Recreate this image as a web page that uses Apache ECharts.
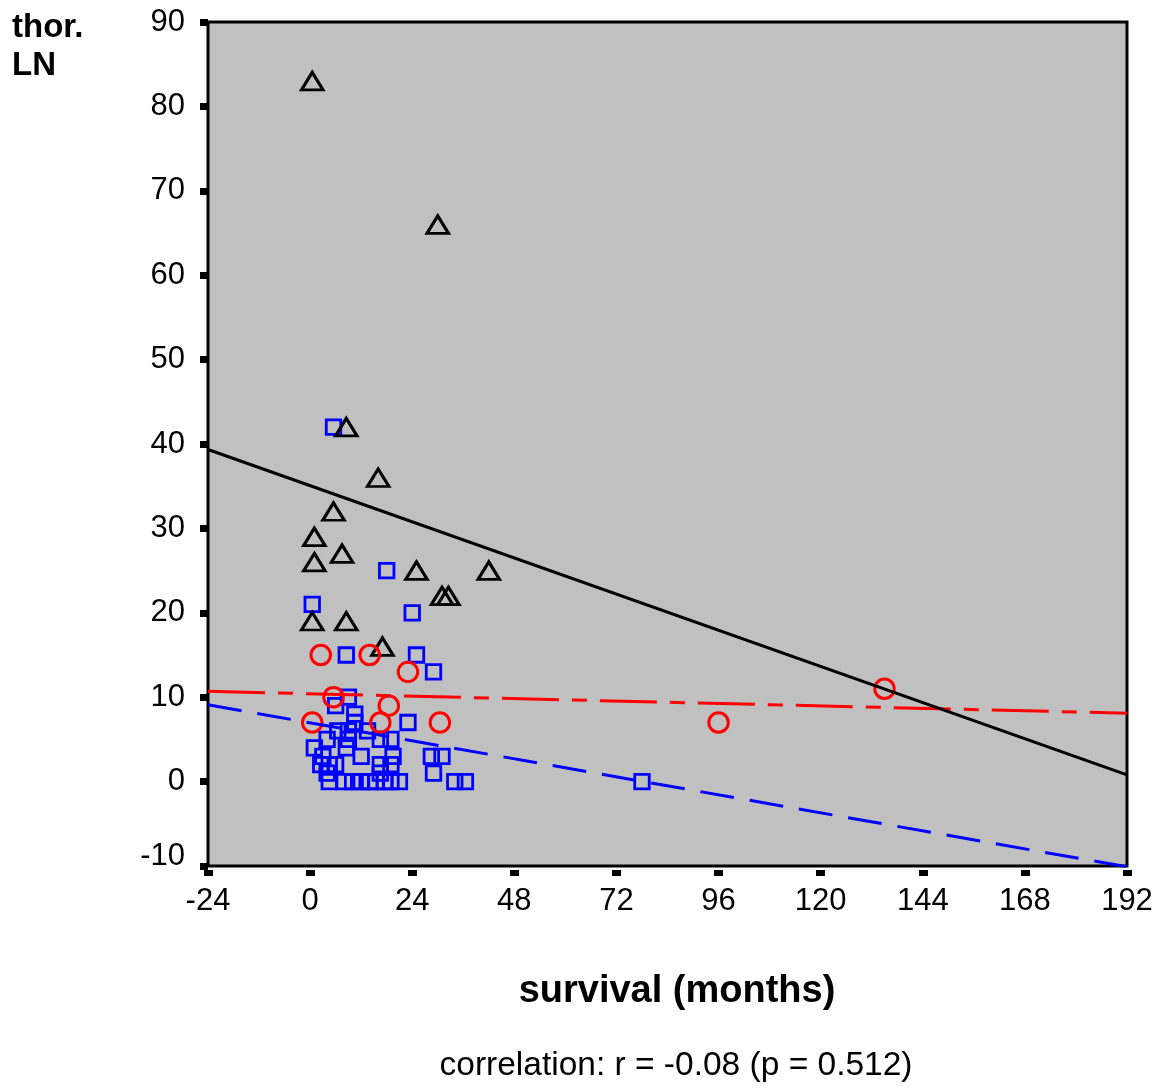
<!DOCTYPE html>
<html>
<head>
<meta charset="utf-8">
<script src="https://cdn.jsdelivr.net/npm/echarts@6/dist/echarts.min.js"></script>
<style>
html,body{margin:0;padding:0;background:#fff;}
#chart{width:1157px;height:1087px;}
</style>
</head>
<body>
<div id="chart"></div>
<script>
// ---- data ----
var xTicks = [-24, 0, 24, 48, 72, 96, 120, 144, 168, 192];
var yTicks = [-10, 0, 10, 20, 30, 40, 50, 60, 70, 80, 90];

// black triangles
var triX = [0.5, 30, 8.5, 16, 5.5, 1, 7.5, 1, 25, 42, 31, 32.5, 0.5, 8.5, 17];
var triY = [83, 66, 42, 36, 32, 29, 27, 26, 25, 25, 22, 22, 19, 19, 16];

// red circles
var cirX = [2.5, 14, 23, 5.5, 18.5, 0.5, 16.5, 30.5, 96, 135];
var cirY = [15, 15, 13, 10, 9, 7, 7, 7, 7, 11];

// blue squares
var sqX = [5.5, 18, 0.5, 24, 8.5, 25, 29, 9, 6, 10.5, 10.5, 6.5, 9, 13.5, 23, 4, 9, 16.5, 19, 1, 8.5, 3, 12, 19.5, 28.5, 31, 2.5, 4.5, 6, 16.5, 19, 4, 16.5, 29, 4.5, 8, 10, 12, 14, 15.5, 17.5, 19, 21, 34, 36.5, 78];
var sqY = [42, 25, 21, 20, 15, 15, 13, 10, 9, 8, 7, 6, 6, 6, 7, 5, 5, 5, 5, 4, 4, 3, 3, 3, 3, 3, 2, 2, 2, 2, 2, 1, 1, 1, 0, 0, 0, 0, 0, 0, 0, 0, 0, 0, 0, 0];

// regression lines (end points)
var fitX = [-24, 192];
var fitTriY = [39.35, 0.8];
var fitCirY = [10.7, 8.1];
var fitSqY = [9.1, -10.1];

function zip(a, b) { return a.map(function (v, i) { return [v, b[i]]; }); }

var FONT = '"Liberation Sans", Arial, Helvetica, sans-serif';

var chart = echarts.init(document.getElementById('chart'), null, {renderer: 'canvas'});
chart.setOption({
  animation: false,
  backgroundColor: '#ffffff',
  grid: {
    left: 208, top: 22, width: 919, height: 844,
    show: true, backgroundColor: '#c0c0c0', borderColor: '#000', borderWidth: 3
  },
  xAxis: {
    type: 'value', min: xTicks[0], max: xTicks[xTicks.length - 1], interval: 24,
    offset: 4,
    axisLine: {show: false, onZero: false},
    axisTick: {show: true, inside: false, length: 6, lineStyle: {color: '#000', width: 9}},
    axisLabel: {margin: 16, fontSize: 31, color: '#000', fontFamily: FONT},
    splitLine: {show: false}
  },
  yAxis: {
    type: 'value', min: yTicks[0], max: yTicks[yTicks.length - 1], interval: 10,
    axisLine: {show: false, onZero: false},
    axisTick: {show: true, inside: false, length: 8, lineStyle: {color: '#000', width: 7}},
    axisLabel: {
      margin: 23, fontSize: 31, color: '#000', fontFamily: FONT,
      formatter: function (v) { return v === -10 ? '{low|-10}' : String(v); },
      rich: {low: {fontSize: 31, fontFamily: FONT, color: '#000', padding: [0, 0, 20, 0]}}
    },
    splitLine: {show: false}
  },
  graphic: [
    {type: 'text', left: 12, top: 11, style: {text: 'thor.', font: 'bold 33px ' + FONT, fill: '#000'}},
    {type: 'text', left: 12, top: 49, style: {text: 'LN', font: 'bold 33px ' + FONT, fill: '#000'}},
    {type: 'text', style: {x: 677, y: 992, text: 'survival (months)', font: 'bold 38px ' + FONT, fill: '#000', textAlign: 'center', textVerticalAlign: 'middle'}},
    {type: 'text', style: {x: 676, y: 1066, text: 'correlation: r = -0.08 (p = 0.512)', font: '33.5px ' + FONT, fill: '#000', textAlign: 'center', textVerticalAlign: 'middle'}}
  ],
  series: [
    {
      type: 'scatter', name: 'squares', data: zip(sqX, sqY), symbol: 'rect', symbolSize: 14.5, z: 2,
      itemStyle: {color: 'rgba(0,0,0,0)', borderColor: '#0000ff', borderWidth: 2.8, opacity: 1}
    },
    {
      type: 'scatter', name: 'triangles', data: zip(triX, triY), symbol: 'triangle', symbolSize: [21.5, 17.5], z: 3,
      itemStyle: {color: 'rgba(0,0,0,0)', borderColor: '#000000', borderWidth: 3, opacity: 1}
    },
    {
      type: 'scatter', name: 'circles', data: zip(cirX, cirY), symbol: 'circle', symbolSize: 19.5, z: 4,
      itemStyle: {color: 'rgba(0,0,0,0)', borderColor: '#ff0000', borderWidth: 3, opacity: 1}
    },
    {
      type: 'line', data: zip(fitX, fitSqY), symbol: 'none', z: 5, silent: true,
      lineStyle: {color: '#0000ff', width: 3, type: [34, 16]}
    },
    {
      type: 'line', data: zip(fitX, fitCirY), symbol: 'none', z: 5, silent: true,
      lineStyle: {color: '#ff0000', width: 3, type: [57, 13, 15, 13]}
    },
    {
      type: 'line', data: zip(fitX, fitTriY), symbol: 'none', z: 6, silent: true,
      lineStyle: {color: '#000000', width: 3}
    }
  ]
});
</script>
</body>
</html>
